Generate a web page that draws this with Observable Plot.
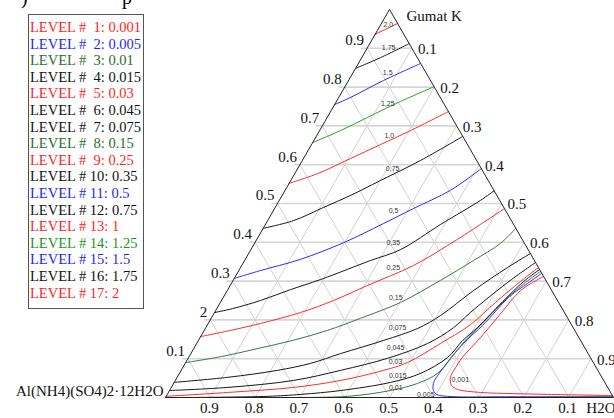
<!DOCTYPE html>
<html><head><meta charset="utf-8">
<script src="https://cdn.jsdelivr.net/npm/d3@7"></script>
<script src="https://cdn.jsdelivr.net/npm/@observablehq/plot@0.6"></script>
<style>
html,body{margin:0;padding:0;background:#fff;overflow:hidden;}
#wrap{position:relative;width:614px;height:418px;overflow:hidden;}
#legend{position:absolute;left:28px;top:14px;width:116px;height:295px;border:1px solid #555;
 font-family:"Liberation Serif",serif;font-size:14.5px;line-height:16.6px;padding:4px 0 0 1px;
 box-sizing:border-box;white-space:pre;background:#fff;}
.frag{position:absolute;top:-13px;font-family:"Liberation Serif",serif;font-size:20px;line-height:20px;}
</style></head>
<body><div id="wrap"><div id="chart"></div><div id="legend"></div>
<span class="frag" style="left:21px">)</span><span class="frag" style="left:122px">p</span></div>
<script>
// ---------- data (ternary coordinates: [H2O fraction, Gumat K fraction]) ----------
const levels = [0.001, 0.005, 0.01, 0.015, 0.03, 0.045, 0.075, 0.15, 0.25, 0.35, 0.5, 0.75, 1, 1.25, 1.5, 1.75, 2];
const contourLabels = ["0,001","0,005","0,01","0,015","0,03","0,045","0,075","0,15","0,25","0,35","0,5","0,75","1,0","1,25","1,5","1,75","2,0"];
const contourLabelPos = [[0.635,0.046],[0.577,0.008],[0.501,0.026],[0.490,0.057],[0.467,0.093],[0.449,0.129],[0.428,0.180],[0.385,0.258],[0.341,0.335],[0.309,0.399],[0.268,0.482],[0.212,0.590],[0.162,0.675],[0.117,0.758],[0.077,0.838],[0.047,0.902],[0.017,0.961]];

const c0_001 = [[0.995,0.005],[0.849,0.008],[0.772,0.010],[0.697,0.013],[0.641,0.021],[0.623,0.031],[0.610,0.052],[0.609,0.077],[0.611,0.103],[0.626,0.155],[0.640,0.216],[0.655,0.276],[0.688,0.312]];
const c0_005 = [[0.998,0.002],[0.776,0.002],[0.628,0.003],[0.601,0.008],[0.589,0.018],[0.580,0.036],[0.579,0.057],[0.583,0.080],[0.588,0.111],[0.599,0.149],[0.615,0.186],[0.638,0.260],[0.661,0.294],[0.680,0.320]];
const c0_01  = [[0.279,0.000],[0.405,0.003],[0.493,0.018],[0.544,0.036],[0.576,0.062],[0.586,0.101],[0.595,0.144],[0.610,0.186],[0.633,0.253],[0.655,0.296],[0.675,0.325]];
const c0_01b = [[0.853,0.001],[0.998,0.001]];
const c0_015 = [[0.056,0.000],[0.226,0.003],[0.298,0.008],[0.382,0.018],[0.483,0.039],[0.538,0.062],[0.578,0.103],[0.590,0.147],[0.606,0.180],[0.629,0.247],[0.650,0.299],[0.670,0.330]];
const c0_03  = [[0.000,0.003],[0.132,0.013],[0.273,0.026],[0.369,0.044],[0.452,0.070],[0.495,0.090],[0.544,0.139],[0.587,0.188],[0.614,0.245],[0.643,0.299],[0.665,0.335]];
const c0_045 = [[0.000,0.018],[0.126,0.026],[0.264,0.044],[0.356,0.070],[0.445,0.101],[0.515,0.139],[0.553,0.180],[0.571,0.219],[0.615,0.296],[0.652,0.348]];
const c0_075 = [[0.000,0.039],[0.113,0.052],[0.215,0.070],[0.280,0.088],[0.334,0.113],[0.413,0.147],[0.474,0.178],[0.508,0.211],[0.550,0.276],[0.596,0.335],[0.629,0.371]];
const c0_15  = [[0.000,0.090],[0.074,0.106],[0.142,0.126],[0.210,0.147],[0.275,0.173],[0.333,0.204],[0.402,0.245],[0.463,0.302],[0.511,0.353],[0.549,0.397],[0.564,0.436]];
const c0_25  = [[0.000,0.157],[0.059,0.173],[0.117,0.191],[0.192,0.219],[0.250,0.250],[0.307,0.289],[0.383,0.340],[0.434,0.392],[0.480,0.446],[0.513,0.487]];
const c0_35  = [[0.000,0.219],[0.035,0.229],[0.087,0.250],[0.140,0.278],[0.194,0.304],[0.281,0.353],[0.334,0.381],[0.391,0.446],[0.449,0.508],[0.467,0.533]];
const c0_5   = [[0.000,0.307],[0.048,0.327],[0.123,0.356],[0.198,0.399],[0.262,0.448],[0.310,0.487],[0.369,0.534],[0.410,0.590]];
const c0_75  = [[0.000,0.436],[0.058,0.456],[0.108,0.490],[0.153,0.521],[0.200,0.559],[0.264,0.611],[0.327,0.673]];
const c1_0   = [[0.000,0.552],[0.051,0.577],[0.105,0.616],[0.154,0.652],[0.203,0.688],[0.263,0.737]];
const c1_25  = [[0.000,0.657],[0.047,0.688],[0.090,0.722],[0.143,0.763],[0.199,0.801]];
const c1_5   = [[0.000,0.755],[0.026,0.773],[0.078,0.817],[0.139,0.861]];
const c1_75  = [[0.000,0.848],[0.042,0.876],[0.088,0.912]];
const c2_0   = [[0.000,0.936],[0.036,0.964]];

const ticks = [0.1, 0.2, 0.3, 0.4, 0.5, 0.6, 0.7, 0.8, 0.9];
const leftTickLabels = ["0.1","2","0.3","0.4","0.5","0.6","0.7","0.8","0.9"];
const rightTickLabels = ["0.1","0.2","0.3","0.4","0.5","0.6","0.7","0.8","0.9"];
const bottomTickLabels = ["0.9","0.8","0.7","0.6","0.5","0.4","0.3","0.2","0.1"];
const vertexNames = ["Al(NH4)(SO4)2·12H2O", "Gumat K", "H2O"];
const vertices = [[0,0],[0,1],[1,0]];

// ---------- styles ----------
const RED = "#ff2b2b", BLUE = "#2b2bff", DKGREEN = "#3a773a", GREEN = "#2a9f2a", BLACK = "#161616";
const levelColors = [RED, BLUE, DKGREEN, BLACK, RED, BLACK, BLACK, DKGREEN, RED, BLACK, BLUE, BLACK, RED, GREEN, BLUE, BLACK, RED];
const legendColors = ["#ff1f1f","#1f1fff","#2e6b2e","#111","#ff1f1f","#111","#111","#2e6b2e","#ff1f1f","#111","#1f1fff","#111","#ff1f1f","#1a961a","#1f1fff","#111","#ff1f1f"];

const contourSets = [[c0_001],[c0_005],[c0_01, c0_01b],[c0_015],[c0_03],[c0_045],[c0_075],[c0_15],[c0_25],[c0_35],[c0_5],[c0_75],[c1_0],[c1_25],[c1_5],[c1_75],[c2_0]];

// ternary -> cartesian
const PX = d => d[0] + d[1] / 2;
const PY = d => d[1];

const marks = [];
marks.push(Plot.link(ticks, {x1: t => t/2 - 0.014, y1: t => t, x2: t => 1 - t/2, y2: t => t, stroke: "#d6d6d6", strokeWidth: 1.6}));
marks.push(Plot.link(ticks, {x1: t => t, y1: 0, x2: t => t + (1 - t)/2, y2: t => 1 - t, stroke: "#d2d2d2", strokeWidth: 1}));
marks.push(Plot.link(ticks, {x1: t => 1 - t, y1: 0, x2: t => (1 - t)/2, y2: t => 1 - t, stroke: "#d2d2d2", strokeWidth: 1}));
contourSets.forEach((segs, i) => segs.forEach(seg => {
  marks.push(Plot.line(seg, {x: PX, y: PY, stroke: levelColors[i], strokeWidth: 1, curve: "catmull-rom"}));
}));
marks.push(Plot.line([...vertices, vertices[0]], {x: PX, y: PY, stroke: "#222", strokeWidth: 1}));
marks.push(Plot.text(contourLabelPos, {x: PX, y: PY, text: (d, i) => contourLabels[i], fontSize: 7, fontFamily: "Liberation Sans", fill: "#333"}));
const tickFont = {fontSize: 15, fontFamily: "Liberation Serif", fill: "#111"};
marks.push(Plot.text(ticks, {x: t => t/2, y: t => t, text: (t, i) => leftTickLabels[i], textAnchor: "end", dx: -3, dy: -8, ...tickFont}));
marks.push(Plot.text(ticks, {x: t => t + (1 - t)/2, y: t => 1 - t, text: (t, i) => rightTickLabels[i], textAnchor: "start", dx: 6, dy: 1, ...tickFont}));
marks.push(Plot.text(ticks, {x: t => t, y: 0, text: (t, i) => bottomTickLabels[i], dx: -1, dy: 11, ...tickFont}));
marks.push(Plot.text([vertices[0]], {x: PX, y: PY, text: () => vertexNames[0], textAnchor: "end", dx: -2, dy: -6, ...tickFont}));
marks.push(Plot.text([vertices[1]], {x: PX, y: PY, text: () => vertexNames[1], textAnchor: "start", dx: 17, dy: 7, ...tickFont}));
marks.push(Plot.text([vertices[2]], {x: PX, y: PY, text: () => vertexNames[2], textAnchor: "end", dx: 2, dy: 11, ...tickFont}));

const chart = Plot.plot({
  width: 614, height: 418,
  margin: 0,
  x: {domain: [0, 1], range: [165, 613], axis: null},
  y: {domain: [0, 1], range: [397, 9], axis: null},
  style: {background: "white", fontFamily: "Liberation Serif"},
  marks
});
document.getElementById("chart").appendChild(chart);

const lg = document.getElementById("legend");
levels.forEach((v, i) => {
  const n = i + 1;
  const div = document.createElement("div");
  div.textContent = "LEVEL # " + (n < 10 ? " " + n : n) + ": " + v;
  div.style.color = legendColors[i];
  lg.appendChild(div);
});
</script></body></html>
